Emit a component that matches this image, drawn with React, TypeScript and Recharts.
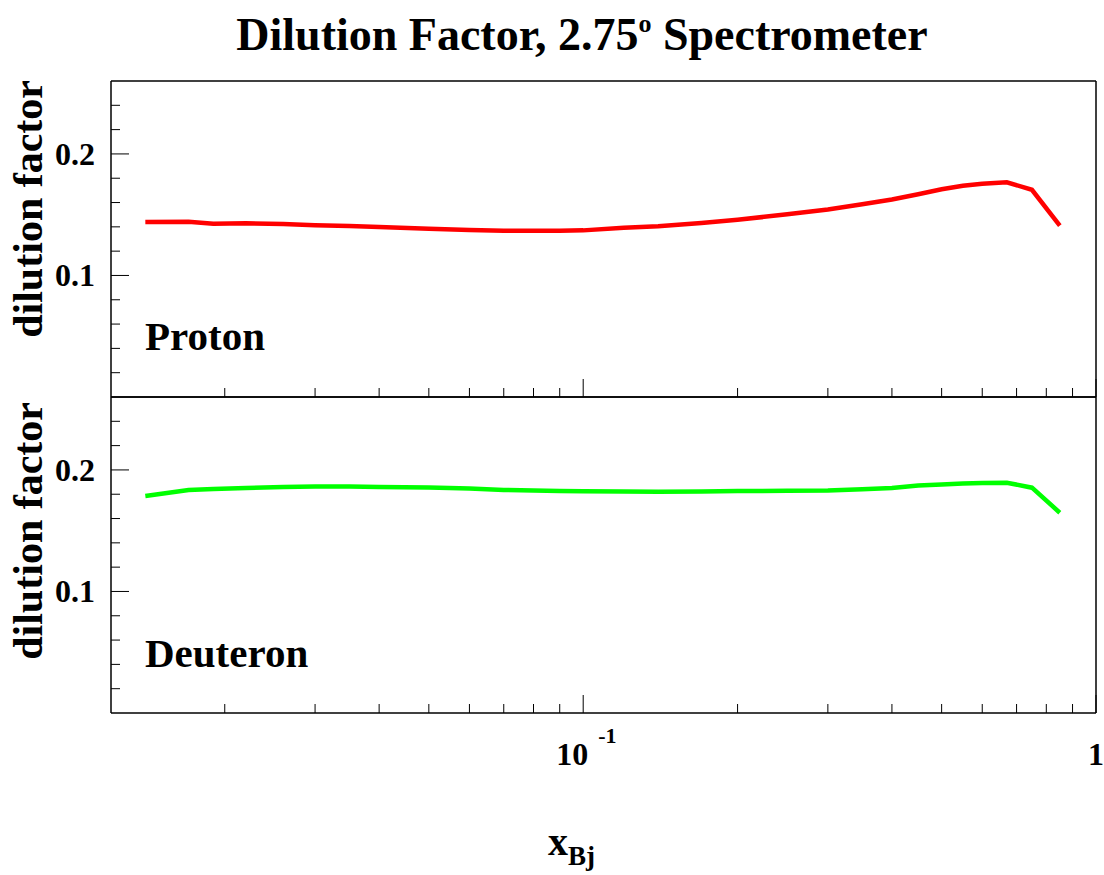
import { LineChart, Line, XAxis, YAxis } from "recharts";

// x_Bj sample points and dilution factors
const xBj = [
  0.014, 0.017, 0.019, 0.022, 0.026, 0.03, 0.035, 0.04, 0.05, 0.06, 0.07, 0.08,
  0.09, 0.1, 0.12, 0.14, 0.17, 0.2, 0.25, 0.3, 0.35, 0.4, 0.45, 0.5, 0.55, 0.6,
  0.67, 0.75, 0.85,
];

const protonDf = [
  0.1439, 0.1442, 0.1425, 0.1429, 0.1423, 0.1414, 0.1406, 0.1398, 0.1384,
  0.1374, 0.1367, 0.1367, 0.1367, 0.1371, 0.1392, 0.1404, 0.1431, 0.1458,
  0.1503, 0.1543, 0.1586, 0.1625, 0.1668, 0.1709, 0.1738, 0.1755, 0.1767,
  0.1705, 0.1411,
];

const deuteronDf = [
  0.1786, 0.1835, 0.1843, 0.1852, 0.186, 0.1864, 0.1864, 0.186, 0.1856, 0.1848,
  0.1835, 0.1831, 0.1827, 0.1824, 0.1823, 0.1821, 0.1823, 0.1827, 0.1828,
  0.1831, 0.184, 0.1852, 0.1872, 0.188, 0.1889, 0.1893, 0.1895, 0.1854, 0.1648,
];

const xTicks = [
  0.02, 0.03, 0.04, 0.05, 0.06, 0.07, 0.08, 0.09, 0.1, 0.2, 0.3, 0.4, 0.5, 0.6,
  0.7, 0.8, 0.9, 1,
];
const yTicks = [
  0.02, 0.04, 0.06, 0.08, 0.1, 0.12, 0.14, 0.16, 0.18, 0.2, 0.22, 0.24,
];

const X_DOMAIN: [number, number] = [0.012, 1];
const Y_DOMAIN: [number, number] = [0, 0.26];
const FONT = "'Liberation Serif', 'Times New Roman', serif";

const protonData = xBj.map((x, i) => ({ x, df: protonDf[i] }));
const deuteronData = xBj.map((x, i) => ({ x, df: deuteronDf[i] }));

const YTick = (props: any) => {
  const { x, y, payload } = props;
  const v = payload.value;
  const major = Math.abs(v - 0.1) < 1e-6 || Math.abs(v - 0.2) < 1e-6;
  return (
    <g>
      <line x1={x} x2={x + (major ? 18 : 9)} y1={y} y2={y} stroke="#000" />
      {major && (
        <text
          x={x - 16}
          y={y + 11}
          textAnchor="end"
          fontFamily={FONT}
          fontWeight="bold"
          fontSize={32}
          fill="#000"
        >
          {v.toFixed(1)}
        </text>
      )}
    </g>
  );
};

const XTickTop = (props: any) => {
  const { x, y, payload } = props;
  const major = payload.value === 0.1 || payload.value === 1;
  return <line x1={x} x2={x} y1={y} y2={y - (major ? 18 : 9)} stroke="#000" />;
};

const XTickBottom = (props: any) => {
  const { x, y, payload } = props;
  const v = payload.value;
  const major = v === 0.1 || v === 1;
  const txt = { fontFamily: FONT, fontWeight: "bold" as const, fill: "#000" };
  return (
    <g>
      <line x1={x} x2={x} y1={y} y2={y - (major ? 18 : 9)} stroke="#000" />
      {v === 0.1 && (
        <>
          <text x={x + 5} y={y + 52} textAnchor="end" fontSize={32} {...txt}>
            10
          </text>
          <text x={x + 15} y={y + 30} fontSize={22} {...txt}>
            -1
          </text>
        </>
      )}
      {v === 1 && (
        <text x={x} y={y + 52} textAnchor="middle" fontSize={32} {...txt}>
          1
        </text>
      )}
    </g>
  );
};

const Panel = ({
  data,
  color,
  height,
  margin,
  xHeight,
  bottom,
}: {
  data: { x: number; df: number }[];
  color: string;
  height: number;
  margin: { top: number; right: number; bottom: number; left: number };
  xHeight: number;
  bottom: boolean;
}) => (
  <LineChart width={1104} height={height} data={data} margin={margin}>
    <XAxis
      dataKey="x"
      type="number"
      scale="log"
      domain={X_DOMAIN}
      ticks={xTicks}
      interval={0}
      tickSize={0}
      tickMargin={0}
      tickLine={false}
      height={xHeight}
      axisLine={{ stroke: "#000", strokeWidth: 1.5 }}
      tick={bottom ? <XTickBottom /> : <XTickTop />}
      allowDataOverflow
    />
    <XAxis
      xAxisId="frame"
      orientation="top"
      type="number"
      scale="log"
      domain={X_DOMAIN}
      height={1}
      tick={false}
      tickLine={false}
      axisLine={{ stroke: "#000", strokeWidth: 1.5 }}
      allowDataOverflow
    />
    <YAxis
      type="number"
      domain={Y_DOMAIN}
      ticks={yTicks}
      interval={0}
      width={111}
      tickSize={0}
      tickMargin={0}
      tickLine={false}
      axisLine={{ stroke: "#000", strokeWidth: 1.5 }}
      tick={<YTick />}
      allowDataOverflow
    />
    <YAxis
      yAxisId="frame"
      orientation="right"
      type="number"
      domain={Y_DOMAIN}
      width={8}
      tick={false}
      tickLine={false}
      axisLine={{ stroke: "#000", strokeWidth: 1.5 }}
      allowDataOverflow
    />
    <Line
      type="linear"
      dataKey="df"
      stroke={color}
      strokeWidth={4.5}
      dot={false}
      isAnimationActive={false}
    />
  </LineChart>
);

export default function App() {
  const bold = { fontFamily: FONT, fontWeight: "bold" as const, fill: "#000" };
  return (
    <div
      style={{
        position: "absolute",
        left: 0,
        top: 0,
        width: 1104,
        height: 875,
        background: "#fff",
      }}
    >
      <div style={{ position: "absolute", left: 0, top: 0 }}>
        <Panel
          data={protonData}
          color="#ff0000"
          height={420}
          margin={{ top: 80, right: 0, bottom: 3, left: 0 }}
          xHeight={20}
          bottom={false}
        />
      </div>
      <div style={{ position: "absolute", left: 0, top: 0 }}>
        <Panel
          data={deuteronData}
          color="#00ff00"
          height={875}
          margin={{ top: 396, right: 0, bottom: 102, left: 0 }}
          xHeight={60}
          bottom={true}
        />
      </div>
      <svg
        width={1104}
        height={875}
        style={{ position: "absolute", left: 0, top: 0, pointerEvents: "none" }}
      >
        <text x={582} y={50} textAnchor="middle" fontSize={46} {...bold}>
          Dilution Factor, 2.75
          <tspan dy={-18} fontSize={26}>
            o
          </tspan>
          <tspan dy={18}> Spectrometer</tspan>
        </text>
        <text
          transform="translate(42,80) rotate(-90)"
          textAnchor="end"
          fontSize={42}
          {...bold}
        >
          dilution factor
        </text>
        <text
          transform="translate(42,402) rotate(-90)"
          textAnchor="end"
          fontSize={42}
          {...bold}
        >
          dilution factor
        </text>
        <text x={145} y={350} fontSize={41} {...bold}>
          Proton
        </text>
        <text x={145} y={667} fontSize={41} {...bold}>
          Deuteron
        </text>
        <text x={548} y={855} fontSize={40} {...bold}>
          x
          <tspan dy={10} fontSize={27}>
            Bj
          </tspan>
        </text>
      </svg>
    </div>
  );
}
